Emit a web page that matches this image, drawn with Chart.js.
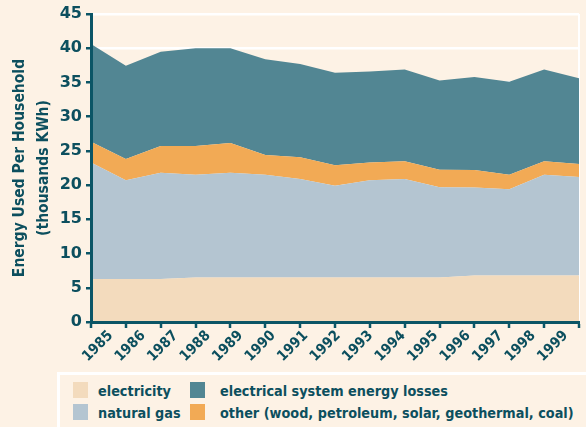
<!DOCTYPE html>
<html>
<head>
<meta charset="utf-8">
<script src="https://cdn.jsdelivr.net/npm/chart.js@4/dist/chart.umd.min.js"></script>
<style>
  html, body { margin: 0; padding: 0; background: #fdf2e5; overflow: hidden; }
  #wrap { position: relative; width: 586px; height: 427px; }
  #c { position: absolute; left: 0; top: 0; }
  #legend { position: absolute; left: 57px; top: 372px; width: 540px; height: 70px;
    border: 3px solid #ffffff; border-right: none; box-sizing: border-box;
    font-family: "DejaVu Sans Condensed", "DejaVu Sans", sans-serif; font-weight: bold;
    font-size: 14.3px; color: #0c4f5e; }
  .sw { position: absolute; width: 15px; height: 16px; }
  .lt { position: absolute; white-space: nowrap; line-height: 20px; }
</style>
</head>
<body>
<div id="wrap">
  <canvas id="c" width="586" height="372"></canvas>
  <div id="legend"></div>
</div>
<script>
const years = ["1985","1986","1987","1988","1989","1990","1991","1992","1993","1994","1995","1996","1997","1998","1999"];
const electricity = [6.3, 6.3, 6.3, 6.5, 6.5, 6.5, 6.5, 6.5, 6.5, 6.5, 6.5, 6.8, 6.8, 6.8, 6.8];
const naturalGas  = [17.0, 14.4, 15.5, 15.0, 15.3, 15.0, 14.4, 13.4, 14.2, 14.4, 13.2, 12.85, 12.6, 14.7, 14.4];
const other       = [3.05, 3.1, 3.9, 4.2, 4.35, 2.9, 3.16, 3.0, 2.6, 2.6, 2.55, 2.55, 2.1, 2.0, 1.9];
const losses      = [14.25, 13.65, 13.8, 14.3, 13.85, 14.0, 13.64, 13.5, 13.3, 13.4, 13.05, 13.6, 13.6, 13.4, 12.5];
const yTicks = [0, 5, 10, 15, 20, 25, 30, 35, 40, 45];
const seriesNames = ["electricity", "natural gas", "other (wood, petroleum, solar, geothermal, coal)", "electrical system energy losses"];
const yTitle = ["Energy Used Per Household", "(thousands KWh)"];

const colors = { elec: "#f3dbbd", gas: "#b4c5d1", other: "#f2aa55", loss: "#528693" };
const teal = "#0c4f5e";
const axisTeal = "#0b5566";
const condFam = '"DejaVu Sans Condensed", "DejaVu Sans", sans-serif';
const boldFam = '"DejaVu Sans", sans-serif';

function ds(label, data, color, fill) {
  return { label, data, backgroundColor: color, borderColor: color, borderWidth: 0,
    pointRadius: 0, pointHoverRadius: 0, fill, tension: 0 };
}

// rotated year labels, anchored on the x scale's tick pixels
const xLabelPlugin = {
  id: "xYearLabels",
  afterDraw(chart) {
    const xs = chart.scales.x;
    const ctx = chart.ctx;
    ctx.save();
    ctx.fillStyle = teal;
    ctx.font = 'bold 14.5px ' + condFam;
    ctx.textAlign = "right";
    ctx.textBaseline = "middle";
    xs.ticks.forEach((t, i) => {
      const x = xs.getPixelForTick(i) + 19.7 - i * 32.9 / 14;
      const y = xs.top + 11.5;
      ctx.save();
      ctx.translate(x, y);
      ctx.rotate(-Math.PI / 4);
      ctx.fillText(years[i], 0, 0);
      ctx.restore();
    });
    ctx.restore();
  }
};

new Chart(document.getElementById("c"), {
  type: "line",
  data: {
    labels: years,
    datasets: [
      ds(seriesNames[0], electricity, colors.elec, "origin"),
      ds(seriesNames[1], naturalGas, colors.gas, "-1"),
      ds(seriesNames[2], other, colors.other, "-1"),
      ds(seriesNames[3], losses, colors.loss, "-1")
    ]
  },
  plugins: [xLabelPlugin],
  options: {
    responsive: false,
    devicePixelRatio: 1,
    animation: false,
    layout: { padding: { top: 14, right: 7, left: 0, bottom: 0 } },
    plugins: { legend: { display: false }, tooltip: { enabled: false } },
    scales: {
      x: {
        type: "category",
        offset: false,
        grid: {
          color: (ctx) => ctx.index === years.length - 1 ? "#ffffff" : "rgba(0,0,0,0)",
          lineWidth: 2,
          tickColor: axisTeal,
          tickLength: 6,
          tickWidth: 2.5
        },
        border: { color: axisTeal, width: 3, z: 1 },
        ticks: { display: false, autoSkip: false },
        afterFit: (s) => { s.height = 50; }
      },
      y: {
        stacked: true,
        min: 0, max: 45,
        afterBuildTicks: (s) => { s.ticks = yTicks.map(v => ({ value: v })); },
        grid: { color: "#ffffff", lineWidth: 2.5, tickColor: axisTeal, tickLength: 5, tickWidth: 2.5 },
        border: { color: axisTeal, width: 3, z: 1 },
        ticks: { color: teal, font: { family: boldFam, weight: "bold", size: 16 }, padding: 4 },
        title: { display: true, text: yTitle, color: teal,
          font: { family: condFam, weight: "bold", size: 15.5, lineHeight: 1.55 },
          padding: { top: 8, bottom: 0 } },
        afterFit: (s) => { s.width = 91; }
      }
    }
  }
});

// HTML legend (two columns)
const legendItems = [
  { name: seriesNames[0], color: colors.elec, col: 0, row: 0 },
  { name: seriesNames[3], color: colors.loss, col: 1, row: 0 },
  { name: seriesNames[1], color: colors.gas, col: 0, row: 1 },
  { name: seriesNames[2], color: colors.other, col: 1, row: 1 }
];
const lg = document.getElementById("legend");
legendItems.forEach(it => {
  const sx = it.col === 0 ? 13 : 130;
  const tx = it.col === 0 ? 38 : 160;
  const sy = it.row === 0 ? 7 : 29;
  const sw = document.createElement("div");
  sw.className = "sw"; sw.style.left = sx + "px"; sw.style.top = sy + "px"; sw.style.background = it.color;
  lg.appendChild(sw);
  const t = document.createElement("div");
  t.className = "lt"; t.textContent = it.name;
  t.style.left = tx + "px"; t.style.top = (sy - 1) + "px";
  lg.appendChild(t);
});
</script>
</body>
</html>
